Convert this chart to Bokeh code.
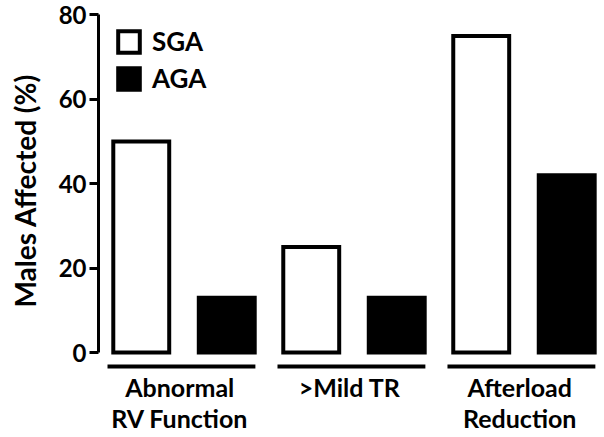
from bokeh.plotting import figure
from bokeh.models import Range1d, FixedTicker, ColumnDataSource, Legend, LegendItem, Title
from bokeh.core.properties import value
from bokeh.embed import file_html
from bokeh.resources import INLINE

categories = ["Abnormal\nRV Function", ">Mild TR", "Afterload\nReduction"]
series_names = ["SGA", "AGA"]
sga_values = [50, 25, 75]
aga_values = [13, 13, 42]
y_ticks = [0, 20, 40, 60, 80]
y_title = "Males Affected (%)"

FONT = "Lato"
group_x = list(range(len(categories)))

p = figure(width=602, height=435, output_backend="svg", toolbar_location=None,
           x_axis_location=None,
           x_range=Range1d(-0.503, 2.462), y_range=Range1d(-19.67, 81.54),
           min_border_left=98, min_border_right=0, min_border_top=8, min_border_bottom=0)
p.outline_line_color = None
p.xgrid.grid_line_color = None
p.ygrid.grid_line_color = None
p.background_fill_color = "white"
p.border_fill_color = "white"

bar_w = 0.329
off = 0.2515
src_s = ColumnDataSource(dict(x=[g - off for g in group_x], top=sga_values))
src_a = ColumnDataSource(dict(x=[g + off for g in group_x], top=aga_values))
r_s = p.vbar(x="x", top="top", bottom=0, width=bar_w, source=src_s,
             fill_color="white", line_color="black", line_width=4, line_join="miter")
r_a = p.vbar(x="x", top="top", bottom=0, width=bar_w, source=src_a,
             fill_color="black", line_color="black", line_width=4, line_join="miter")

# category underlines
p.segment(x0=[g - 0.45 for g in group_x], x1=[g + 0.42 for g in group_x],
          y0=[-3.32] * 3, y1=[-3.32] * 3, line_color="black", line_width=4)

# category labels (two lines each)
lines = [c.split("\n") for c in categories]
line1 = [l[0] for l in lines]
line2 = [l[1] if len(l) > 1 else "" for l in lines]
lab_x = [g - 0.025 for g in group_x]
for txt, yy in ((line1, -8.06), (line2, -15.41)):
    p.text(x=lab_x, y=[yy] * len(txt), text=txt, text_align="center",
           text_baseline="alphabetic", text_font=value(FONT), text_font_style="bold",
           text_font_size="25px", text_color="black")

# y axis
ya = p.yaxis[0]
ya.ticker = FixedTicker(ticks=y_ticks)
ya.bounds = (0, 80)
ya.axis_line_width = 3
ya.major_tick_line_width = 3
ya.major_tick_out = 9
ya.major_tick_in = 0
ya.minor_tick_line_color = None
ya.major_label_text_font = FONT
ya.major_label_text_font_style = "bold"
ya.major_label_text_font_size = "24px"
ya.major_label_text_color = "black"
ya.major_label_standoff = 3
ya.axis_label = " "
ya.axis_label_text_font_size = "10px"
ya.axis_label_standoff = 0

p.add_layout(Title(text=y_title, align="left", offset=128, standoff=0,
                   text_font=FONT, text_font_style="bold", text_font_size="28px",
                   text_color="black"), "left")

legend = Legend(items=[LegendItem(label=series_names[0], renderers=[r_s]),
                       LegendItem(label=series_names[1], renderers=[r_a])],
                location="top_left", margin=17, padding=0,
                glyph_width=27, glyph_height=27, label_height=27, spacing=5,
                label_standoff=10, label_text_font=FONT, label_text_font_style="bold",
                label_text_font_size="26px", label_text_color="black",
                border_line_color=None, background_fill_alpha=0)
p.add_layout(legend)

open("out.html", "w").write(file_html(p, INLINE))
